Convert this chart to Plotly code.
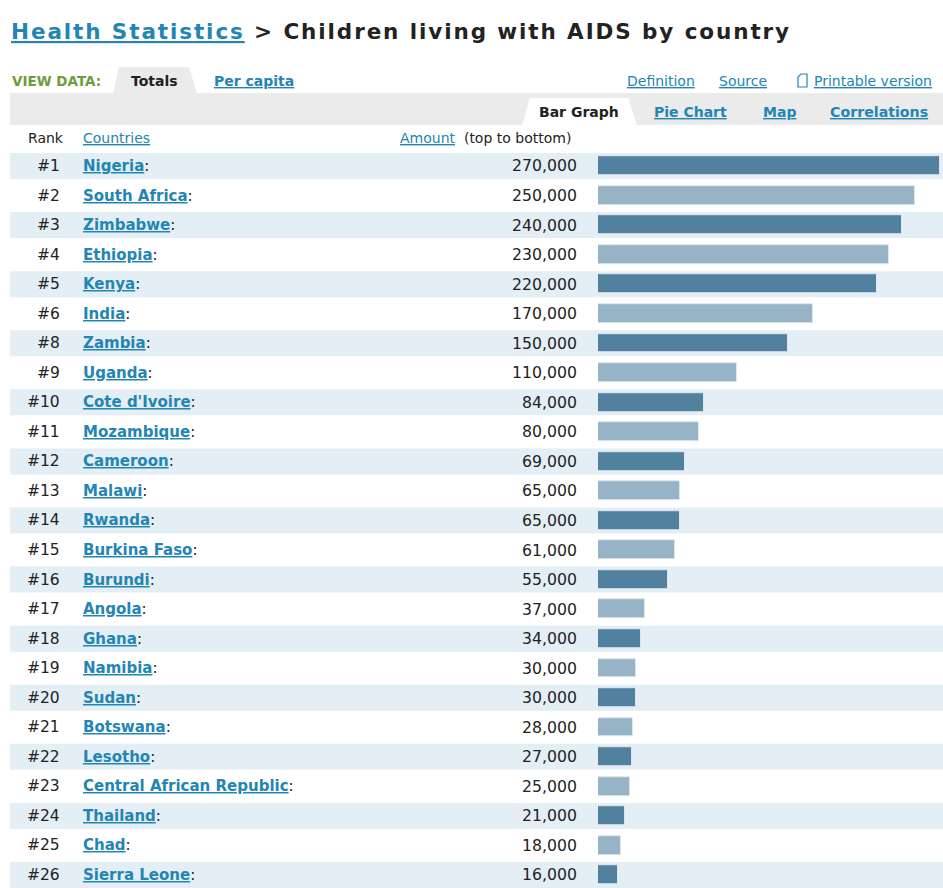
import plotly.graph_objects as go

ranks = [1, 2, 3, 4, 5, 6, 8, 9, 10, 11, 12, 13, 14, 15, 16, 17, 18, 19, 20, 21, 22, 23, 24, 25, 26]
countries = ["Nigeria", "South Africa", "Zimbabwe", "Ethiopia", "Kenya", "India", "Zambia", "Uganda",
             "Cote d'Ivoire", "Mozambique", "Cameroon", "Malawi", "Rwanda", "Burkina Faso", "Burundi",
             "Angola", "Ghana", "Namibia", "Sudan", "Botswana", "Lesotho", "Central African Republic",
             "Thailand", "Chad", "Sierra Leone"]
amounts = [270000, 250000, 240000, 230000, 220000, 170000, 150000, 110000, 84000, 80000, 69000, 65000,
           65000, 61000, 55000, 37000, 34000, 30000, 30000, 28000, 27000, 25000, 21000, 18000, 16000]

W, H = 943, 888
FONT = "DejaVu Sans"
LINK = "#2385b3"
DARK = "#222222"
BAR_DARK = "#52819f"
BAR_LIGHT = "#97b3c6"
STRIPE = "#e4eef5"


def px(x):
    return x / W


def py(y):
    return 1 - y / H


n = len(countries)
idx = list(range(n))
pitch = 29.54
row0 = 166
y_top_px = row0 - pitch / 2
y_bottom_val = (H - row0) / pitch

fig = go.Figure()
fig.add_trace(go.Bar(
    x=amounts, y=idx, orientation="h", width=0.64,
    marker=dict(color=[BAR_DARK if i % 2 == 0 else BAR_LIGHT for i in idx],
                line=dict(color="#dfe7ee", width=1)),
    hoverinfo="skip",
))

shapes = []
# stripes
for i in idx:
    if i % 2 == 0:
        shapes.append(dict(type="rect", xref="paper", yref="y", x0=px(10), x1=1,
                           y0=i - 0.44, y1=i + 0.44, fillcolor=STRIPE, line=dict(width=0), layer="below"))
# gray band
shapes.append(dict(type="rect", xref="paper", yref="paper", x0=px(10), x1=1, y0=py(125), y1=py(93),
                   fillcolor="#ebebeb", line=dict(width=0), layer="below"))
# Totals tab
shapes.append(dict(type="path", xref="paper", yref="paper",
                   path=f"M {px(113)},{py(94)} L {px(119)},{py(67)} L {px(189)},{py(67)} L {px(197)},{py(94)} Z",
                   fillcolor="#ebebeb", line=dict(width=0), layer="below"))
# Bar Graph tab
shapes.append(dict(type="path", xref="paper", yref="paper",
                   path=f"M {px(522)},{py(125)} L {px(530)},{py(98)} L {px(628)},{py(98)} L {px(637)},{py(125)} Z",
                   fillcolor="#ffffff", line=dict(width=0), layer="below"))
# printable icon
shapes.append(dict(type="path", xref="paper", yref="paper",
                   path=f"M {px(798)},{py(87)} L {px(798)},{py(77)} L {px(801)},{py(74)} L {px(807)},{py(74)} L {px(807)},{py(87)} Z",
                   fillcolor="rgba(0,0,0,0)", line=dict(color=LINK, width=1.2), layer="above"))

ann = []


def text(x, y, s, size=14, color=DARK, anchor="left", bold=False, yref="paper"):
    ann.append(dict(x=x, y=y, xref="paper", yref=yref, text=(f"<b>{s}</b>" if bold else s),
                    showarrow=False, xanchor=anchor, yanchor="middle",
                    font=dict(family=FONT, size=size, color=color)))


# title
text(px(9), py(32),
     f"<span style='letter-spacing:1.9px'><span style='color:{LINK}'><u>Health Statistics</u></span> &gt; "
     f"Children living with AIDS by country</span>",
     size=21.5, bold=True)
text(px(10), py(81), "VIEW DATA:", size=13.5, color="#6f9a3e", bold=True)
text(px(129), py(81), "Totals", size=14, bold=True)
text(px(212), py(81), "<u>Per capita</u>", size=14, color=LINK, bold=True)
text(px(625), py(81), "<u>Definition</u>", size=14, color=LINK)
text(px(717), py(81), "<u>Source</u>", size=14, color=LINK)
text(px(812), py(81), "<u>Printable version</u>", size=14, color=LINK)
text(px(537), py(112), "Bar Graph", size=14, bold=True)
text(px(652), py(112), "<u>Pie Chart</u>", size=14, color=LINK, bold=True)
text(px(761), py(112), "<u>Map</u>", size=14, color=LINK, bold=True)
text(px(828), py(112), "<u>Correlations</u>", size=14.2, color=LINK, bold=True)
text(px(26), py(138), "Rank", size=14)
text(px(81), py(138), "<u>Countries</u>", size=14, color=LINK)
text(px(398), py(138), f"<u>Amount</u><span style='color:{DARK}'>  (top to bottom)</span>", size=14, color=LINK)

for i, r, c, a in zip(idx, ranks, countries, amounts):
    text(px(62), i, f"#{r}", size=15.5, anchor="right", yref="y")
    text(px(81), i, f"<b><u>{c}</u></b><span style='color:{DARK}'>:</span>", size=15, color=LINK, yref="y")
    text(px(579), i, f"{a:,}", size=15.7, anchor="right", yref="y")

fig.update_layout(
    width=W, height=H, margin=dict(l=0, r=0, t=0, b=0),
    paper_bgcolor="white", plot_bgcolor="rgba(0,0,0,0)",
    showlegend=False, bargap=0,
    xaxis=dict(domain=[px(598), 1], range=[0, 270000 * 345 / 342], visible=False, fixedrange=True),
    yaxis=dict(domain=[0, py(y_top_px)], range=[y_bottom_val, -0.5], visible=False, fixedrange=True),
    shapes=shapes, annotations=ann,
)

fig.write_html("out.html", config={"displayModeBar": False},
               post_script="document.body.style.margin='0';document.body.style.padding='0';")
